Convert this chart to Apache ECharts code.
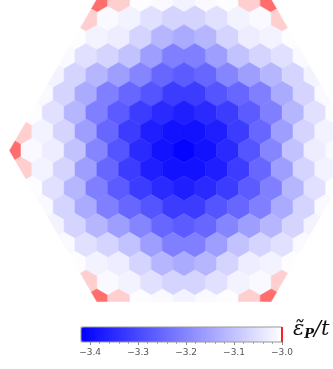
<!DOCTYPE html>
<html><head><meta charset="utf-8">
<script src="https://cdn.jsdelivr.net/npm/echarts@6/dist/echarts.min.js"></script>
<style>html,body{margin:0;padding:0;background:#fff}#c{width:333px;height:369px}</style>
</head><body><div id="c"></div>
<script>
// rows of the k-grid (row index j, from top to bottom); each row read left to right
const rowIndex = [8,7,6,5,4,3,2,1,0,-1,-2,-3,-4,-5,-6,-7,-8];
const row8  = [-2.76,-2.92,-3.003,-3.01,-3.02,-3.01,-3.003,-2.92,-2.76];
const row7  = [-2.92,-3.01,-3.02,-3.05,-3.07,-3.07,-3.05,-3.02,-3.01,-2.92];
const row6  = [-3.003,-3.02,-3.03,-3.07,-3.12,-3.14,-3.12,-3.07,-3.03,-3.02,-3.003];
const row5  = [-3.01,-3.05,-3.07,-3.10,-3.16,-3.21,-3.21,-3.16,-3.10,-3.07,-3.05,-3.01];
const row4  = [-3.02,-3.07,-3.12,-3.16,-3.20,-3.25,-3.27,-3.25,-3.20,-3.16,-3.12,-3.07,-3.02];
const row3  = [-3.01,-3.07,-3.14,-3.21,-3.25,-3.28,-3.32,-3.32,-3.28,-3.25,-3.21,-3.14,-3.07,-3.01];
const row2  = [-3.003,-3.05,-3.12,-3.21,-3.27,-3.32,-3.35,-3.37,-3.35,-3.32,-3.27,-3.21,-3.12,-3.05,-3.003];
const row1  = [-2.92,-3.02,-3.07,-3.16,-3.25,-3.32,-3.37,-3.39,-3.39,-3.37,-3.32,-3.25,-3.16,-3.07,-3.02,-2.92];
const row0  = [-2.76,-3.01,-3.03,-3.10,-3.20,-3.28,-3.35,-3.39,-3.41,-3.39,-3.35,-3.28,-3.20,-3.10,-3.03,-3.01,-2.76];
const rowM1 = [-2.92,-3.02,-3.07,-3.16,-3.25,-3.32,-3.37,-3.39,-3.39,-3.37,-3.32,-3.25,-3.16,-3.07,-3.02,-2.92];
const rowM2 = [-3.003,-3.05,-3.12,-3.21,-3.27,-3.32,-3.35,-3.37,-3.35,-3.32,-3.27,-3.21,-3.12,-3.05,-3.003];
const rowM3 = [-3.01,-3.07,-3.14,-3.21,-3.25,-3.28,-3.32,-3.32,-3.28,-3.25,-3.21,-3.14,-3.07,-3.01];
const rowM4 = [-3.02,-3.07,-3.12,-3.16,-3.20,-3.25,-3.27,-3.25,-3.20,-3.16,-3.12,-3.07,-3.02];
const rowM5 = [-3.01,-3.05,-3.07,-3.10,-3.16,-3.21,-3.21,-3.16,-3.10,-3.07,-3.05,-3.01];
const rowM6 = [-3.003,-3.02,-3.03,-3.07,-3.12,-3.14,-3.12,-3.07,-3.03,-3.02,-3.003];
const rowM7 = [-2.92,-3.01,-3.02,-3.05,-3.07,-3.07,-3.05,-3.02,-3.01,-2.92];
const rowM8 = [-2.76,-2.92,-3.003,-3.01,-3.02,-3.01,-3.003,-2.92,-2.76];
const rows = [row8,row7,row6,row5,row4,row3,row2,row1,row0,rowM1,rowM2,rowM3,rowM4,rowM5,rowM6,rowM7,rowM8];

// colour bar
const cbarMin = -3.419, cbarMax = -3.0;
const cbarTicks = [-3.4,-3.3,-3.2,-3.1,-3.0];
const redMax = -2.581;

const SQ3 = Math.sqrt(3);
const bzR = 8; // Brillouin-zone corner distance in grid units
const BZ = [];
for (let k = 0; k < 6; k++) { const a = k * Math.PI / 3; BZ.push([bzR * Math.cos(a), bzR * Math.sin(a)]); }

const blueCells = [], redCells = [];
rowIndex.forEach((j, ri) => {
  const vals = rows[ri];
  const half = (vals.length - 1) / 2;
  vals.forEach((v, k) => {
    const item = [-half + k, j * SQ3 / 2, v];
    (v > cbarMax ? redCells : blueCells).push(item);
  });
});

function clipPoly(subject, clip) {
  let out = subject;
  for (let i = 0; i < clip.length; i++) {
    const A = clip[i], B = clip[(i + 1) % clip.length];
    const cr = p => (B[0] - A[0]) * (p[1] - A[1]) - (B[1] - A[1]) * (p[0] - A[0]);
    const inp = out; out = [];
    for (let k = 0; k < inp.length; k++) {
      const P = inp[k], Q = inp[(k + 1) % inp.length];
      const dp = cr(P), dq = cr(Q);
      const pin = dp >= -1e-9, qin = dq >= -1e-9;
      const inter = () => { const t = dp / (dp - dq); return [P[0] + t * (Q[0] - P[0]), P[1] + t * (Q[1] - P[1])]; };
      if (pin) { out.push(P); if (!qin) out.push(inter()); }
      else if (qin) out.push(inter());
    }
  }
  return out;
}

function renderHex(params, api) {
  const cx = api.value(0), cy = api.value(1);
  const r = 1 / SQ3;
  let poly = [];
  for (let k = 0; k < 6; k++) { const a = Math.PI / 6 + k * Math.PI / 3; poly.push([cx + r * Math.cos(a), cy + r * Math.sin(a)]); }
  poly = clipPoly(poly, BZ);
  if (poly.length < 3) return;
  const color = api.visual('color');
  return { type: 'polygon', shape: { points: poly.map(p => api.coord(p)) },
    style: { fill: color, stroke: color, lineWidth: 0.5 } };
}

const chart = echarts.init(document.getElementById('c'), null, { renderer: 'canvas' });
chart.setOption({
  animation: false,
  backgroundColor: '#ffffff',
  grid: [
    { left: 0, right: 0, top: 0, height: 303 },
    { left: 81, width: 201, top: 327, height: 15, show: true, borderColor: '#999', borderWidth: 1, backgroundColor: 'transparent', z: 10 }
  ],
  xAxis: [
    { gridIndex: 0, type: 'value', min: -8.44, max: 6.835, show: false },
    { gridIndex: 1, type: 'value', min: cbarMin, max: cbarMax, position: 'bottom',
      axisLine: { show: false }, splitLine: { show: false },
      axisTick: { show: true, customValues: cbarTicks, length: 3, lineStyle: { color: '#888' } },
      minorTick: { show: true, splitNumber: 5, length: 2, lineStyle: { color: '#aaa' } },
      axisLabel: { customValues: cbarTicks, margin: 6, color: '#555', fontSize: 9, fontFamily: 'DejaVu Sans',
        formatter: v => v.toFixed(1).replace('-', '\u2212') },
      name: '{e|\u03B5\u0303}{p|P}{t|/t}', nameLocation: 'end', nameGap: 11,
      nameTextStyle: { align: 'left', verticalAlign: 'bottom', padding: [0, 0, 1, 0],
        rich: {
          e: { fontFamily: 'DejaVu Serif', fontStyle: 'italic', fontSize: 21, color: '#111' },
          p: { fontFamily: 'DejaVu Serif', fontStyle: 'italic', fontWeight: 'bold', fontSize: 13, color: '#111', padding: [9, 0, 0, 0] },
          t: { fontFamily: 'DejaVu Serif', fontStyle: 'italic', fontSize: 21, color: '#111' }
        } }
    }
  ],
  yAxis: [
    { gridIndex: 0, type: 'value', min: -6.995, max: 6.904, show: false },
    { gridIndex: 1, type: 'value', min: 0, max: 1, show: false }
  ],
  visualMap: [
    { type: 'continuous', seriesIndex: 0, dimension: 2, min: cbarMin, max: cbarMax,
      inRange: { color: ['#0000ff', '#ffffff'] }, orient: 'horizontal',
      left: 81, top: 327, itemWidth: 15, itemHeight: 201, padding: 0, calculable: false, text: null },
    { type: 'continuous', seriesIndex: 1, dimension: 2, min: cbarMax, max: redMax,
      inRange: { color: ['#ffffff', '#ff0000'] }, show: false }
  ],
  series: [
    { type: 'custom', xAxisIndex: 0, yAxisIndex: 0, data: blueCells, renderItem: renderHex, silent: true },
    { type: 'custom', xAxisIndex: 0, yAxisIndex: 0, data: redCells, renderItem: renderHex, silent: true },
    { type: 'line', xAxisIndex: 1, yAxisIndex: 1, data: [[cbarMax, 0], [cbarMax, 1]], symbol: 'none',
      lineStyle: { color: '#ff2020', width: 2 }, silent: true, z: 20 }
  ]
});
</script></body></html>
